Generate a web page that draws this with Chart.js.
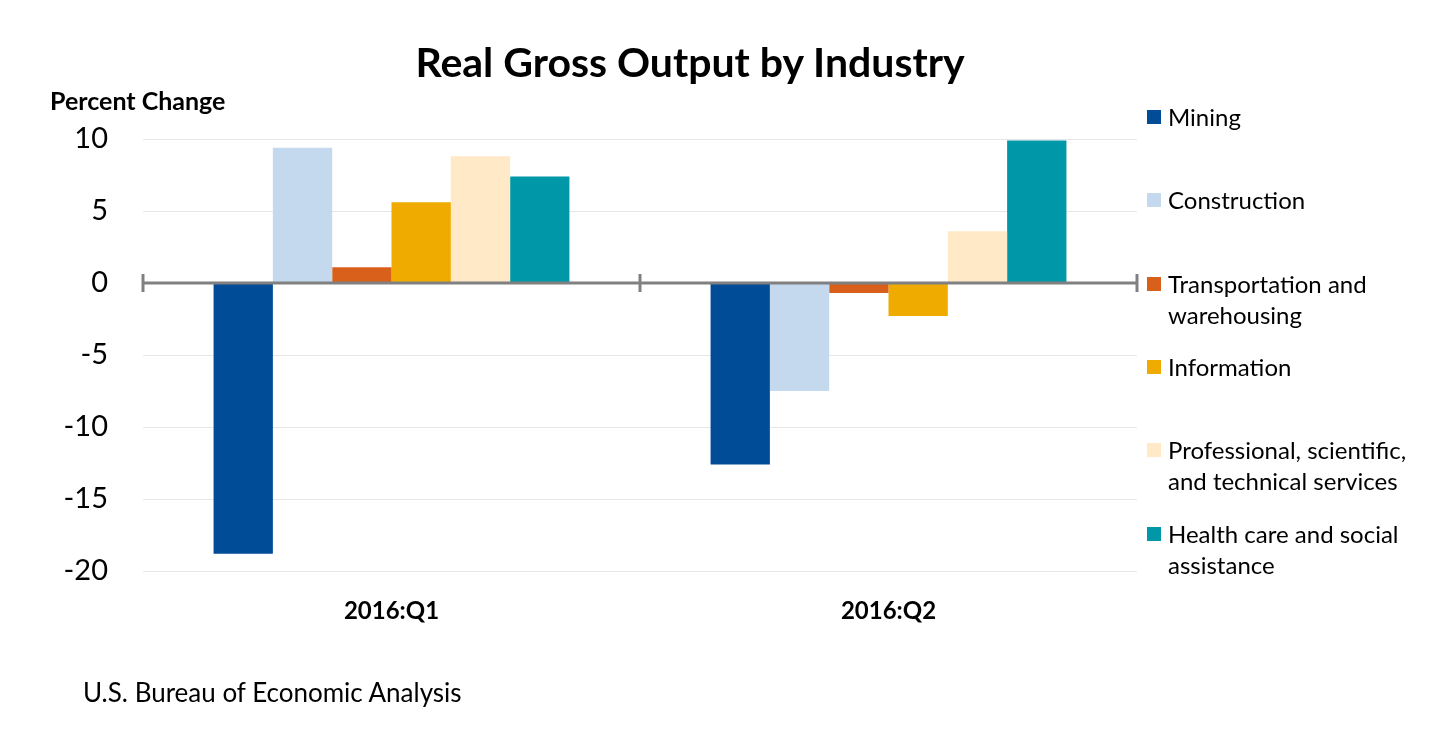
<!DOCTYPE html>
<html>
<head>
<meta charset="utf-8">
<script src="https://cdn.jsdelivr.net/npm/chart.js@4.4.0/dist/chart.umd.min.js"></script>
<style>
  body { margin: 0; background: #fff; font-family: Lato, "Open Sans", sans-serif; }
  #wrap { position: relative; width: 1454px; height: 753px; }
  canvas { position: absolute; left: 0; top: 0; }
  .title { position: absolute; left: 0; width: 1380px; top: 37px; text-align: center; font-weight: bold; font-size: 41px; color: #000; }
  .unit { position: absolute; left: 50px; top: 85px; font-weight: bold; font-size: 25px; color: #000; }
  .source { position: absolute; left: 83px; top: 676px; font-size: 26px; color: #000; }
  .leg { position: absolute; left: 1147px; font-size: 24px; line-height: 31px; color: #000; }
  .leg span.sw { position: absolute; left: 0; top: 9px; width: 14px; height: 14px; }
  .leg span.tx { display: block; margin-left: 21px; white-space: nowrap; }
</style>
</head>
<body>
<div id="wrap">
  <canvas id="c" width="1454" height="753"></canvas>
  <div class="title">Real Gross Output by Industry</div>
  <div class="unit">Percent Change</div>
  <div class="source">U.S. Bureau of Economic Analysis</div>
  <div id="legend"></div>
</div>
<script>
// data
const quarters = ["2016:Q1", "2016:Q2"];
const industries = [
  ["Mining"],
  ["Construction"],
  ["Transportation and", "warehousing"],
  ["Information"],
  ["Professional, scientific,", "and technical services"],
  ["Health care and social", "assistance"]
];
const mining = [-18.8, -12.6];
const construction = [9.4, -7.5];
const transportation = [1.1, -0.7];
const information = [5.6, -2.3];
const professional = [8.8, 3.6];
const healthCare = [7.4, 9.9];
const yTicks = [10, 5, 0, -5, -10, -15, -20];

const colors = ["#004C97", "#C4D8EE", "#D9601A", "#F0AB00", "#FFE9C6", "#0097A8"];
const seriesValues = [mining, construction, transportation, information, professional, healthCare];

// legend drawn as html text next to the chart
const legend = document.getElementById("legend");
industries.forEach((lines, i) => {
  const d = document.createElement("div");
  d.className = "leg";
  d.style.top = (101 + i * 83.3) + "px";
  d.innerHTML = `<span class="sw" style="background:${colors[i]}"></span><span class="tx">${lines.join("<br>")}</span>`;
  legend.appendChild(d);
});

// zero line and the small category marks on it
const zeroLine = {
  id: "zeroLine",
  afterDatasetsDraw(chart) {
    const ctx = chart.ctx;
    const x = chart.scales.x;
    const y0 = chart.scales.y.getPixelForValue(0);
    const area = chart.chartArea;
    ctx.save();
    ctx.strokeStyle = "#808080";
    ctx.lineWidth = 3;
    ctx.beginPath();
    ctx.moveTo(area.left, y0);
    ctx.lineTo(area.right, y0);
    ctx.stroke();
    const step = x.getPixelForValue(1) - x.getPixelForValue(0);
    for (let i = 0; i <= quarters.length; i++) {
      const px = x.getPixelForValue(i) - step / 2;
      ctx.beginPath();
      ctx.moveTo(px, y0 - 9);
      ctx.lineTo(px, y0 + 9);
      ctx.stroke();
    }
    ctx.restore();
  }
};

new Chart(document.getElementById("c"), {
  type: "bar",
  data: {
    labels: quarters,
    datasets: industries.map((lines, i) => ({
      label: lines.join(" "),
      data: seriesValues[i],
      backgroundColor: colors[i],
      borderWidth: 0
    }))
  },
  options: {
    responsive: false,
    animation: false,
    categoryPercentage: 0.716,
    barPercentage: 1,
    layout: { padding: { top: 139, right: 317, bottom: 122, left: 0 } },
    plugins: { legend: { display: false }, tooltip: { enabled: false } },
    scales: {
      x: {
        grid: { display: false, drawTicks: false },
        border: { display: false },
        afterFit: s => { s.height = 60; },
        ticks: {
          padding: 26,
          color: "#000",
          font: { family: "Lato, 'Open Sans', sans-serif", size: 24, weight: "bold" }
        }
      },
      y: {
        min: -20,
        max: 10,
        afterFit: s => { s.width = 143; },
        afterBuildTicks: s => { s.ticks = yTicks.map(v => ({ value: v })); },
        border: { display: false },
        grid: {
          drawTicks: false,
          color: c => c.tick && c.tick.value === 0 ? "rgba(0,0,0,0)" : "#E6E6E6",
          lineWidth: 1
        },
        ticks: {
          padding: 35,
          color: "#000",
          font: { family: "Lato, 'Open Sans', sans-serif", size: 29 }
        }
      }
    }
  },
  plugins: [zeroLine]
});
</script>
</body>
</html>
